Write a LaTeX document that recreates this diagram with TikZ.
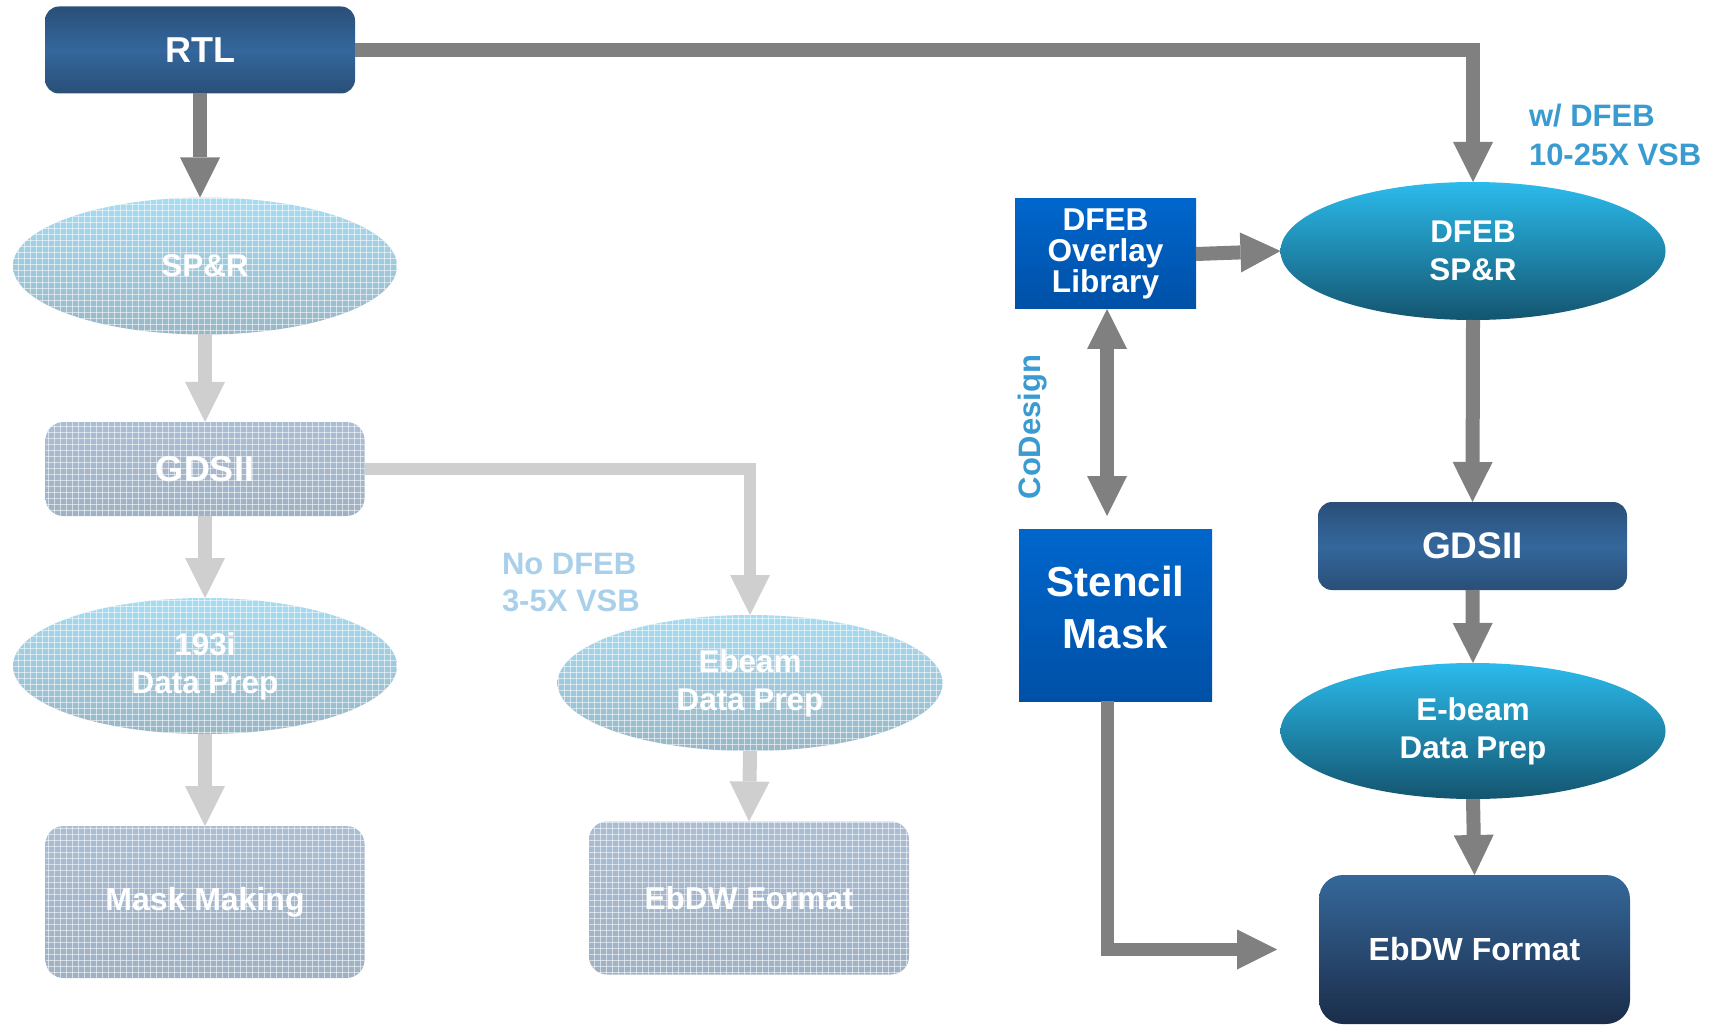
\documentclass[tikz,border=0pt]{standalone}
\usepackage{fontspec}
\setmainfont{Liberation Sans}
\usetikzlibrary{arrows.meta,shapes.geometric,patterns,calc}
\definecolor{arrgray}{HTML}{808080}
\definecolor{fgray}{HTML}{CFCFCF}
\definecolor{dkA}{HTML}{2A4F78}
\definecolor{dkB}{HTML}{34679C}
\definecolor{ebA}{HTML}{35689A}
\definecolor{ebB}{HTML}{1B2D4A}
\definecolor{cyA}{HTML}{2BBBEC}
\definecolor{cyB}{HTML}{13556F}
\definecolor{blA}{HTML}{0066CC}
\definecolor{blB}{HTML}{0050A6}
\definecolor{fcA}{HTML}{A6DDF3}
\definecolor{fcB}{HTML}{98B6C6}
\definecolor{fbA}{HTML}{A9BDD4}
\definecolor{fbB}{HTML}{9FB1C4}
\definecolor{lblue}{HTML}{3A9BD0}
\definecolor{fblue}{HTML}{A9D0EA}
\begin{document}
\begin{tikzpicture}[x=0.5pt,y=-0.5pt,
  base/.style={inner sep=0pt, outer sep=0pt, align=center, text=white,
    font=\bfseries\fontsize{15.7}{19}\selectfont},
  dbox/.style={base, rectangle, rounded corners=7pt, top color=dkA, bottom color=dkA, middle color=dkB},
  ell/.style={base, ellipse, top color=cyA, bottom color=cyB},
  bbox/.style={base, rectangle, top color=blA, bottom color=blB},
  gridpat/.style={path picture={\fill[pattern=grid, pattern color=white, opacity=0.55]
      (path picture bounding box.south west) rectangle (path picture bounding box.north east);}},
  fell/.style={base, ellipse, top color=fcA, bottom color=fcB, gridpat},
  fbox/.style={base, rectangle, rounded corners=9pt, top color=fbA, bottom color=fbB, gridpat},
  arr/.style={draw=arrgray, line width=7pt, >={Triangle[width=20pt,length=20pt,line width=0pt]}, ->},
  farr/.style={arr, draw=fgray},
  lbl/.style={inner sep=0pt, outer sep=0pt, align=left, font=\bfseries\fontsize{15.5}{19.2}\selectfont},
]
\useasboundingbox (0,0) rectangle (1723,1026);

% ---------- left (faded) flow ----------
\node[dbox, minimum width=155pt, minimum height=43.5pt, font=\bfseries\fontsize{18}{21}\selectfont] (rtl) at (200,50) {RTL};
\node[fell, minimum width=192pt, minimum height=68.5pt] (spr) at (205,266) {SP\&R};
\node[fbox, minimum width=159.5pt, minimum height=47pt, font=\bfseries\fontsize{18}{21}\selectfont] (gds1) at (205,469) {GDSII};
\node[fell, minimum width=192pt, minimum height=68pt] (i193) at (205,666) {193i\\Data Prep};
\node[fbox, minimum width=159.5pt, minimum height=76pt, font=\bfseries\fontsize{16}{19}\selectfont] (mask) at (205,902) {Mask Making};
\node[fell, minimum width=192.5pt, minimum height=68pt] (ebeam) at (750,683) {Ebeam\\Data Prep};
\node[fbox, minimum width=160pt, minimum height=76.5pt, font=\bfseries\fontsize{15.8}{19}\selectfont] (ebdw1) at (749,898) {EbDW Format};
\node[lbl, anchor=west, text=fblue, font=\bfseries\fontsize{15.5}{18.5}\selectfont] (nodfeb) at (502,582.5) {No DFEB\\3-5X VSB};

\draw[arr] (rtl.south) -- (rtl.south |- spr.north);
\draw[farr] (spr.south) -- (gds1.north);
\draw[farr] (gds1.south) -- (i193.north);
\draw[farr] (i193.south) -- (mask.north);
\draw[farr, line width=6pt] (gds1.east) -| (ebeam.north);
\draw[farr] (ebeam.south) -- (ebdw1.north);

% ---------- right flow ----------
\node[ell, minimum width=192.5pt, minimum height=69pt] (dspr) at (1473,251) {DFEB\\SP\&R};
\node[bbox, minimum width=90.5pt, minimum height=55pt] (ovl) at (1105.5,254) {};
\node[base, font=\bfseries\fontsize{15.8}{15.3}\selectfont] (ovlt) at (1105.5,254) {DFEB\\Overlay\\Library};
\node[dbox, minimum width=154.5pt, minimum height=44pt, font=\bfseries\fontsize{18.5}{21}\selectfont] (gds2) at (1472.5,546) {GDSII};
\node[ell, minimum width=192.5pt, minimum height=68pt] (eb2) at (1473,731) {E-beam\\Data Prep};
\node[base, rectangle, rounded corners=12pt, top color=ebA, bottom color=ebB,
      minimum width=155.5pt, minimum height=74.5pt, font=\bfseries\fontsize{16}{19}\selectfont] (ebdw2) at (1474.5,949.5) {EbDW Format};
\node[bbox, minimum width=96.5pt, minimum height=86pt] (stencil) at (1115.5,615) {};
\node[base, font=\bfseries\fontsize{21}{26}\selectfont] (stencilt) at (1115.5,607) {Stencil\\Mask};
\node[lbl, rotate=90, text=lblue] (codes) at (1033,427) {CoDesign};
\node[lbl, anchor=west, text=lblue, font=\bfseries\fontsize{15.5}{19.5}\selectfont] (wdfeb) at (1529,134.5) {w/ DFEB\\10-25X VSB};

\draw[arr] (rtl.east) -| (dspr.north);
\draw[arr] (ovl.east) -- (dspr.west);
\draw[arr] (dspr.south) -- (gds2.north);
\draw[arr] (gds2.south) -- (eb2.north);
\draw[arr] (eb2.south) -- (ebdw2.north);
\draw[arr, <->] ([xshift=0.75pt]ovl.south) -- ([xshift=0.75pt,yshift=6.5pt]ovl.south |- stencil.north);
\coordinate (stend) at ([xshift=-21pt]ebdw2.west);
\draw[arr, line width=6.5pt] ([xshift=-4.25pt]stencil.south) |- (stend);
\end{tikzpicture}
\end{document}
